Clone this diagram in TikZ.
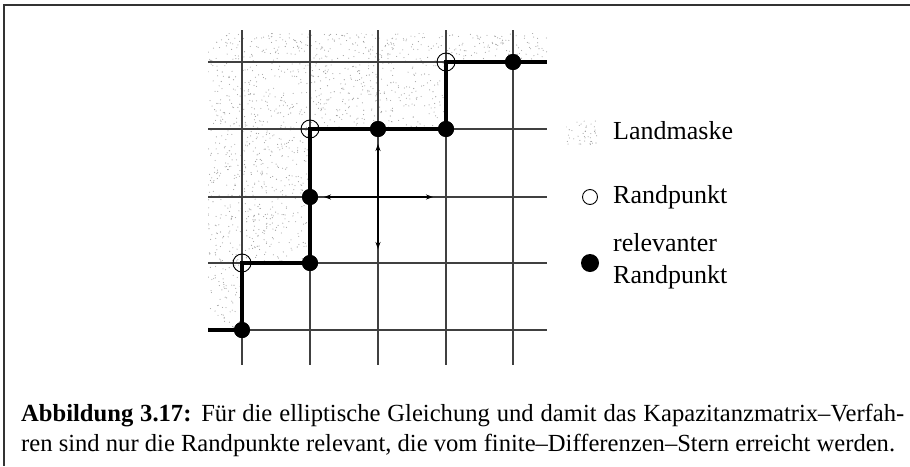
\documentclass[tikz,border=0pt]{standalone}
\usepackage{fontspec}
\setmainfont{Liberation Serif}
\usetikzlibrary{arrows.meta}
\begin{document}
\begin{tikzpicture}[x=1pt,y=-1pt,
  gridline/.style={line width=1.1pt,black!75},
  boundary/.style={line width=4pt,black},
  openpt/.style={circle,draw=black,line width=0.9pt,minimum size=18pt,inner sep=0pt},
  fillpt/.style={circle,fill=black,minimum size=16pt,inner sep=0pt},
  stararrow/.style={line width=1.4pt,-{Stealth[length=7pt,width=5pt]}},
  speck/.style={fill=black!38},
  legtext/.style={font=\fontsize{26}{32}\selectfont,anchor=west,inner sep=0pt,align=left},
  captext/.style={font=\fontsize{24.6}{29}\selectfont,anchor=base west,inner sep=0pt}]
\useasboundingbox (0,0) rectangle (910,466);
% frame
\draw[line width=1.5pt,black!80] (910,5) -- (4,5) -- (4,466);
% land mask stipple
\begin{scope}
  \clip (208,33) -- (547,33) -- (547,62) -- (446,62) -- (446,129) -- (311,129)
        -- (311,263) -- (242,263) -- (242,330) -- (208,330) -- cycle;
  \pgfmathsetseed{7}
  \foreach \i in {1,...,3300}{
    \fill[speck] ({208+339*rnd},{33+297*rnd}) circle (0.55pt);
  }
\end{scope}
% grid
\foreach \x in {242,310,378,446,513}{\draw[gridline] (\x,30) -- (\x,365);}
\foreach \y in {62,129,197,263,330}{\draw[gridline] (208,\y) -- (547,\y);}
% boundary path
\coordinate (bs) at (208,330);
\coordinate (be) at (547,62);
\node[fillpt] (f1) at (242,330) {};
\node[openpt] (o1) at (242,263) {};
\node[fillpt] (f2) at (310,263) {};
\node[fillpt] (f3) at (310,197) {};
\node[openpt] (o2) at (310,129) {};
\node[fillpt] (f4) at (378,129) {};
\node[fillpt] (f5) at (446,129) {};
\node[openpt] (o3) at (446,62) {};
\node[fillpt] (f6) at (513,62) {};
\draw[boundary] (bs) -- (f1.center) -- (o1.center) -- (f2.center) -- (f3.center)
   -- (o2.center) -- (f4.center) -- (f5.center) -- (o3.center) -- (f6.center) -- (be);
% redraw filled points over the path
\foreach \n in {f1,f2,f3,f4,f5,f6}{\fill (\n.center) circle (8pt);}
% finite difference star
\coordinate (c) at (378,197);
\coordinate (sl) at (324,197);
\coordinate (sr) at (433,197);
\coordinate (su) at (378,144);
\coordinate (sd) at (378,249);
\draw[stararrow] (c) -- (sl);
\draw[stararrow] (c) -- (sr);
\draw[stararrow] (c) -- (su);
\draw[stararrow] (c) -- (sd);
% legend
\begin{scope}
  \clip (566,120) rectangle (598,145);
  \pgfmathsetseed{3}
  \foreach \i in {1,...,40}{
    \fill[speck] ({566+32*rnd},{120+25*rnd}) circle (0.55pt);
  }
\end{scope}
\node[legtext] (lland) at (613,131) {Landmaske};
\node[circle,draw=black,line width=0.9pt,minimum size=15pt,inner sep=0pt] (lopen) at (590,197) {};
\node[legtext] (lrand) at (613,197) {Randpunkt};
\node[circle,fill=black,minimum size=18pt,inner sep=0pt] (lfill) at (590,263) {};
\node[legtext] (lrel) at (613,261) {relevanter\\Randpunkt};
% caption
\node[captext] (cap1) at (21,421) {\makebox[883pt][s]{\textbf{Abbildung 3.17:} Für die elliptische Gleichung und damit das Kapazitanzmatrix--Verfah-}};
\node[captext] (cap2) at (21,451) {ren sind nur die Randpunkte relevant, die vom finite--Differenzen--Stern erreicht werden.};
\end{tikzpicture}
\end{document}
